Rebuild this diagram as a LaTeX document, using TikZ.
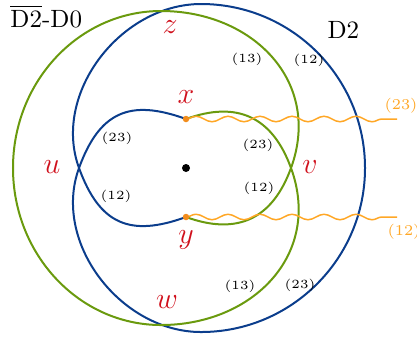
\documentclass[tikz,border=0pt]{standalone}
\usepackage{xcolor}
\usepackage{tikz}
\usetikzlibrary{positioning, decorations.pathmorphing}
\definecolor{dtwoblue}{HTML}{0B3D8C}
\definecolor{dbargreen}{HTML}{6A9A0E}
\definecolor{strorange}{HTML}{FFA726}
\definecolor{endorange}{HTML}{F28C1C}
\definecolor{ptred}{HTML}{D0101C}

\begin{document}
\begin{tikzpicture}[x=0.4pt, y=0.4pt,
    brane/.style={line width=0.8pt},
    ostring/.style={strorange, line width=0.6pt, decorate,
                    decoration={snake, amplitude=1.1pt, segment length=12.8pt}},
    ptlabel/.style={text=ptred, font=\large, inner sep=0pt},
    sector/.style={font=\tiny, inner sep=0pt},
    strlabel/.style={text=strorange, font=\fontsize{6}{7}\selectfont, inner sep=0pt},
    endpt/.style={circle, fill=endorange, inner sep=0pt, minimum size=2.6pt}]
  \useasboundingbox (-186,-168) rectangle (231,168);

  % end points, crossings and the centre
  \coordinate (x0) at (0,49);
  \coordinate (y0) at (0,-49);
  \coordinate (xend) at (211,49);
  \coordinate (yend) at (211,-49);
  \coordinate (bcusp) at (-107,0);
  \coordinate (gcusp) at (105,0);
  \coordinate (bbot) at (15,-164);
  \coordinate (gbot) at (-25,-157);
  \node[circle, fill=black, inner sep=0pt, minimum size=3.2pt] (origin) at (0,0) {};

  % D2
  \draw[brane, dtwoblue] (x0) to[out=160, in=70, looseness=1.3] (bcusp)
      to[out=250, in=180] (bbot) arc[start angle=-90, end angle=90, radius=164]
      to[out=180, in=110] (bcusp) to[out=290, in=200, looseness=1.3] (y0);

  % anti D2-D0
  \draw[brane, dbargreen] (x0) to[out=20, in=110, looseness=1.2] (gcusp)
      to[out=290, in=0, looseness=1.15] (gbot)
      arc[start angle=270, end angle=90, x radius=148, y radius=157]
      to[out=0, in=70, looseness=1.15] (gcusp) to[out=250, in=340, looseness=1.2] (y0);

  % open strings
  \draw[ostring] (x0) -- (xend);
  \draw[ostring] (y0) -- (yend);
  \node[endpt] (xe) at (x0) {};
  \node[endpt] (ye) at (y0) {};
  \node[strlabel] (s23) at (215,62) {(23)};
  \node[strlabel] (s12) at (218,-64) {(12)};

  % intersection points
  \node[ptlabel] (px) at (0,71) {$x$};
  \node[ptlabel] (py) at (0,-72) {$y$};
  \node[ptlabel] (pu) at (-134,1) {$u$};
  \node[ptlabel] (pv) at (124,1) {$v$};
  \node[ptlabel] (pz) at (-16,141) {$z$};
  \node[ptlabel] (pw) at (-19,-134) {$w$};

  % sectors
  \node[sector] (l23a) at (-69,30) {(23)};
  \node[sector] (l12a) at (-70,-28) {(12)};
  \node[sector] (l23b) at (72,23) {(23)};
  \node[sector] (l12b) at (73,-20) {(12)};
  \node[sector] (l13c) at (61,109) {(13)};
  \node[sector] (l12c) at (123,108) {(12)};
  \node[sector] (l13d) at (54,-118) {(13)};
  \node[sector] (l23d) at (114,-117) {(23)};

  % brane names
  \node[anchor=base west, inner sep=0pt] (dtwo) at (141,130) {D2};
  \node[anchor=base west, inner sep=0pt] (dbar) at (-176,141) {$\overline{\mathrm{D2}}$-D0};
\end{tikzpicture}
\end{document}
